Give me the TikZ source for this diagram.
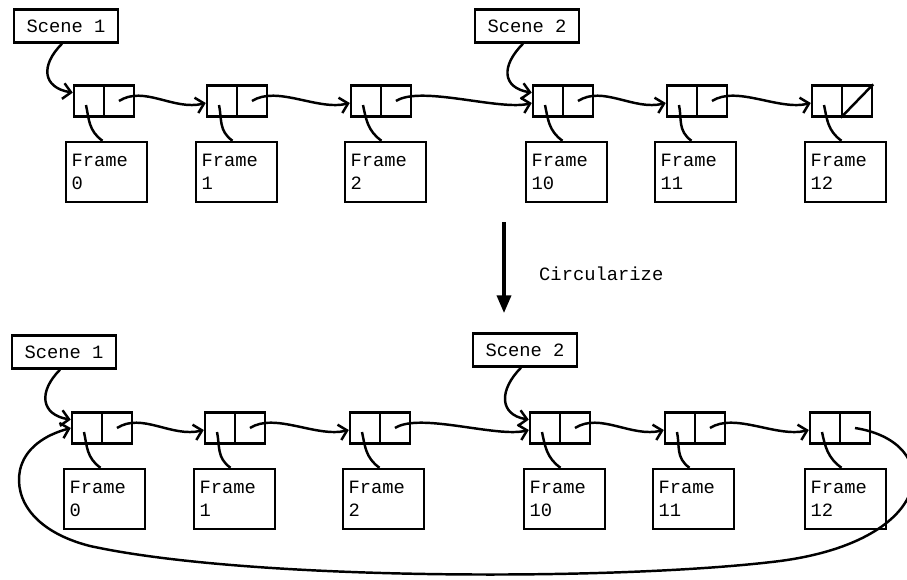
\documentclass[tikz,border=0pt]{standalone}
\usepackage{fontspec}
\setmonofont{Liberation Mono}
\usepackage{tikz}
\usetikzlibrary{calc,arrows.meta,positioning}

\tikzset{
  tt/.style={font=\ttfamily\fontsize{10.7}{13}\selectfont},
  half/.style={draw,line width=1.4pt,minimum width=0.6cm,minimum height=0.62cm,inner sep=0pt},
  framebox/.style={draw,tt,line width=1.4pt,minimum width=1.62cm,minimum height=1.2cm,
    text width=1.4cm,align=left,inner xsep=0.11cm},
  scenebox/.style={draw,tt,line width=1.4pt,minimum width=2.08cm,minimum height=0.66cm,inner sep=0pt},
  ptr/.style={line width=1.4pt},
  link/.style={ptr,-{Straight Barb[length=4.5pt,width=9pt]}},
}

\begin{document}
\begin{tikzpicture}[x=0.02cm,y=-0.02cm]
  \useasboundingbox (0,0) rectangle (907,579);

  % before: two scenes in one open list
  \node[scenebox] (ts1) at (66,26) {Scene 1};
  \node[scenebox] (ts2) at (527,26) {Scene 2};
  \foreach \n/\cx/\fx/\lab in {1/74/66/0,2/207/196/1,3/351/345/2,4/533/526/10,5/667/655/11,6/812/805/12} {
    \node[half] (tl\n) at (\cx+15,101) {};
    \node[half] (tr\n) at (\cx+45,101) {};
    \node[framebox] (tf\n) at (\fx+40.5,172) {Frame\\\lab};
    \draw[ptr] ($(tf\n.north)+(-4,0)$) .. controls +(-14,-10) and +(3,14) .. ($(tl\n.center)+(-3,4)$);
  }
  \foreach \a/\b in {1/2,2/3,3/4,4/5,5/6}
    \draw[link] (tr\a.center) .. controls +(25,-16) and +(-32,8) .. ($(tl\b.west)+(0,2)$);
  \draw[ptr] (tr6.south west) -- (tr6.north east);
  \draw[link] ($(ts1.south)+(-4,0)$) .. controls +(-22,22) and +(-30,-5) .. ($(tl1.north west)!0.25!(tl1.south west)$);
  \draw[link] ($(ts2.south)+(-4,0)$) .. controls +(-22,22) and +(-30,-5) .. ($(tl4.north west)!0.25!(tl4.south west)$);

  % the step
  \coordinate (ctop) at (504,222);
  \coordinate (cbot) at (504,313);
  \draw[line width=1.8pt,-{Triangle[length=10pt,width=8pt]}] (ctop) -- (cbot);
  \node[tt,anchor=west] (circ) at (533,274) {Circularize};

  % after: the list closed into a ring
  \node[scenebox] (bs1) at (64,352) {Scene 1};
  \node[scenebox] (bs2) at (525,350) {Scene 2};
  \foreach \n/\cx/\fx/\lab in {1/72/64/0,2/205/194/1,3/350/343/2,4/530/524/10,5/665/653/11,6/810/805/12} {
    \node[half] (bl\n) at (\cx+15,428) {};
    \node[half] (br\n) at (\cx+45,428) {};
    \node[framebox] (bf\n) at (\fx+40.5,499) {Frame\\\lab};
    \draw[ptr] ($(bf\n.north)+(-4,0)$) .. controls +(-14,-10) and +(3,14) .. ($(bl\n.center)+(-3,4)$);
  }
  \foreach \a/\b in {1/2,2/3,3/4,4/5,5/6}
    \draw[link] (br\a.center) .. controls +(25,-16) and +(-32,8) .. ($(bl\b.west)+(0,2)$);
  \draw[link] ($(bs1.south)+(-4,0)$) .. controls +(-22,22) and +(-30,-5) .. ($(bl1.north west)!0.25!(bl1.south west)$);
  \draw[link] ($(bs2.south)+(-4,0)$) .. controls +(-22,22) and +(-30,-5) .. ($(bl4.north west)!0.25!(bl4.south west)$);
  \draw[link] (br6.center) .. controls (945,442) and (938,540) .. (780,561)
    .. controls (620,581) and (250,581) .. (90,546)
    .. controls (35,532) and (14,500) .. (20,470)
    .. controls (25,448) and (45,435) .. (bl1.west);
\end{tikzpicture}
\end{document}
